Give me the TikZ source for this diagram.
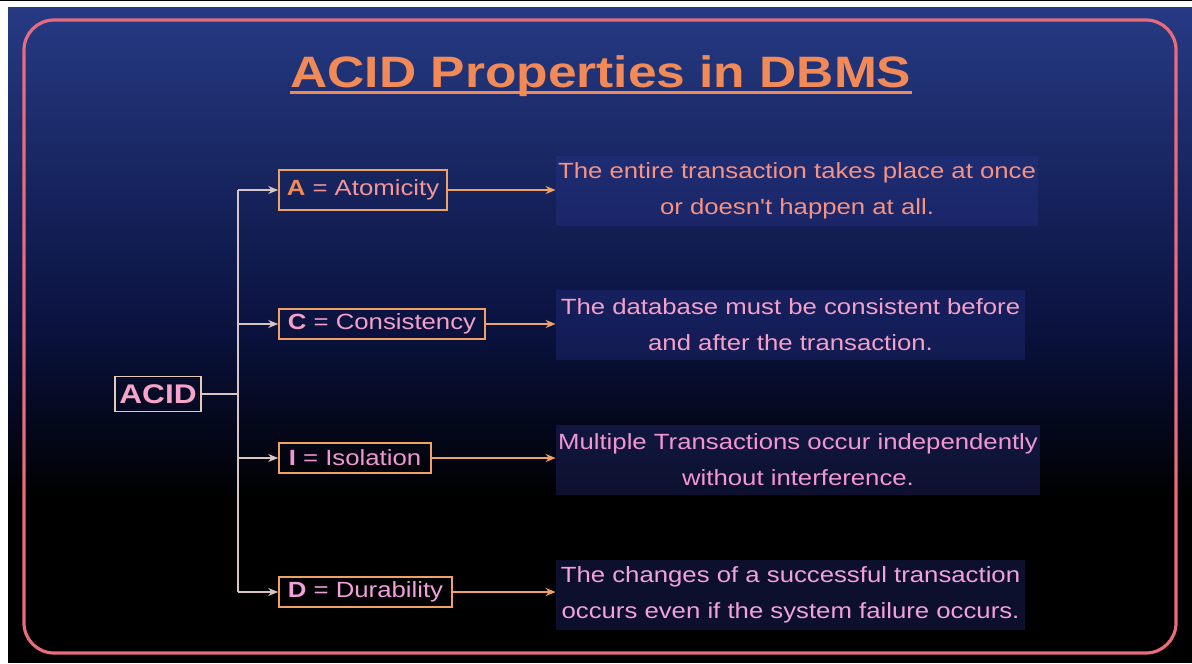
\documentclass[tikz,border=0pt]{standalone}
\usepackage{fontspec}
\setmainfont[FakeStretch=1.17, Ligatures=TeXOff]{Liberation Sans}
\usetikzlibrary{arrows.meta}
\definecolor{bgtop}{RGB}{38,58,132}
\definecolor{bgmid}{RGB}{10,18,62}
\definecolor{framecol}{RGB}{232,108,124}
\definecolor{titlecol}{RGB}{242,138,88}
\definecolor{acidcol}{RGB}{246,164,200}
\definecolor{acidline}{RGB}{232,200,184}
\definecolor{trunkcol}{RGB}{216,196,196}
\definecolor{boxcol}{RGB}{240,162,100}
\definecolor{pinkA}{RGB}{245,150,150}
\definecolor{pinkB}{RGB}{245,160,200}
\definecolor{pinkC}{RGB}{242,150,210}
\definecolor{pinkD}{RGB}{242,160,222}
\definecolor{descA}{RGB}{246,146,128}
\definecolor{descfill}{RGB}{44,56,150}
\begin{document}
\begin{tikzpicture}[x=0.5pt, y=-0.5pt,
  prop/.style={draw=boxcol, line width=0.8pt, inner sep=0pt, minimum height=15pt, font=\fontsize{11}{13}\selectfont},
  desc/.style={fill=descfill, fill opacity=0.3, text opacity=1, inner sep=0pt, minimum height=35pt, align=center, font=\fontsize{11}{18}\selectfont},
  trunk/.style={draw=trunkcol, line width=0.7pt},
  link/.style={draw=boxcol, line width=0.8pt, -{Stealth[length=5pt,width=4pt]}}
]
  \useasboundingbox (0,0) rectangle (1192,663);
  \fill[white] (0,0) rectangle (1192,663);
  \fill[black] (0,0) rectangle (1192,1.5);
  \shade[top color=bgtop, bottom color=bgmid] (8,8) rectangle (1192,330);
  \shade[top color=bgmid, bottom color=black] (8,330) rectangle (1192,500);
  \fill[black] (8,500) rectangle (1192,663);
  \draw[framecol, line width=1.6pt, rounded corners=15pt] (24,20) rectangle (1176,653);

  % title
  \node[inner sep=0pt, anchor=base, text=titlecol, font=\fontsize{22}{26}\selectfont\bfseries] (title) at (601,88) {ACID Properties in DBMS};
  \draw[titlecol, line width=1.5pt] ([yshift=-2.5pt]title.base west) -- ([yshift=-2.5pt]title.base east);

  % root
  \node[draw=acidline, line width=0.8pt, inner sep=0pt, minimum width=43pt, minimum height=17.5pt, text=acidcol, font=\fontsize{13.5}{16}\selectfont\bfseries] (acid) at (158,394) {ACID};

  % properties
  \node[prop, minimum width=84pt, minimum height=20pt, text=pinkA] (atom) at (363,190) {\textcolor{titlecol}{\bfseries A} = Atomicity};
  \node[prop, minimum width=103pt, text=pinkB] (cons) at (382,324) {{\bfseries C} = Consistency};
  \node[prop, minimum width=76pt, text=pinkC] (isol) at (355,458) {{\bfseries I} = Isolation};
  \node[prop, minimum width=86.5pt, text=pinkD] (dura) at (365.5,592) {{\bfseries D} = Durability};

  % descriptions
  \node[desc, minimum width=241pt, text=descA] (dA) at (797,191) {The entire transaction takes place at once\\or doesn't happen at all.};
  \node[desc, minimum width=234.5pt, text=pinkB] (dC) at (790.5,325) {The database must be consistent before\\and after the transaction.};
  \node[desc, minimum width=242pt, text=pinkC] (dI) at (798,460) {Multiple Transactions occur independently\\without interference.};
  \node[desc, minimum width=234.5pt, text=pinkD] (dD) at (790.5,595) {The changes of a successful transaction\\occurs even if the system failure occurs.};

  % tree
  \coordinate (junc) at (238,394);
  \coordinate (jtop) at (238,190);
  \coordinate (jbot) at (238,592);
  \draw[trunk] (acid.east) -- (junc);
  \draw[trunk] (jtop) -- (jbot);
  \draw[trunk, -{Stealth[length=5pt,width=4pt]}] (jtop) -- (atom.west);
  \draw[trunk, -{Stealth[length=5pt,width=4pt]}] (junc |- cons.west) -- (cons.west);
  \draw[trunk, -{Stealth[length=5pt,width=4pt]}] (junc |- isol.west) -- (isol.west);
  \draw[trunk, -{Stealth[length=5pt,width=4pt]}] (jbot) -- (dura.west);

  \draw[link] (atom.east) -- (atom.east -| dA.west);
  \draw[link] (cons.east) -- (cons.east -| dC.west);
  \draw[link] (isol.east) -- (isol.east -| dI.west);
  \draw[link] (dura.east) -- (dura.east -| dD.west);
\end{tikzpicture}
\end{document}
